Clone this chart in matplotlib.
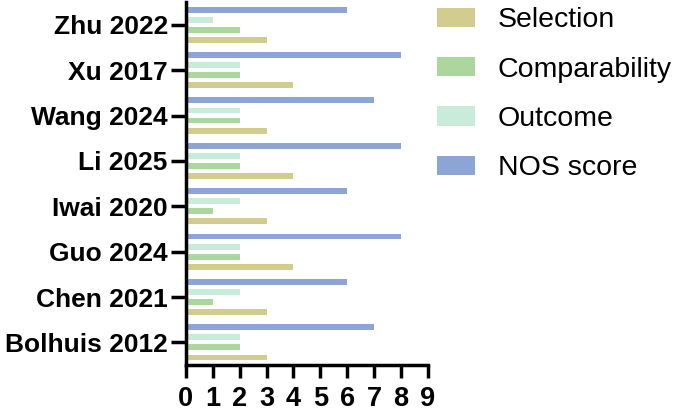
import matplotlib
matplotlib.use("Agg")
import matplotlib.pyplot as plt
import numpy as np
from matplotlib.patches import Patch

plt.rcParams['font.family'] = ['Liberation Sans', 'DejaVu Sans']

studies = ["Bolhuis 2012", "Chen 2021", "Guo 2024", "Iwai 2020",
           "Li 2025", "Wang 2024", "Xu 2017", "Zhu 2022"]
selection = [3, 3, 4, 3, 4, 3, 4, 3]
comparability = [2, 1, 2, 1, 2, 2, 2, 2]
outcome = [2, 2, 2, 2, 2, 2, 2, 1]
nos_score = [7, 6, 8, 6, 8, 7, 8, 6]
series_names = ["Selection", "Comparability", "Outcome", "NOS score"]
colors = ["#d2cd8e", "#abd79e", "#c8ebda", "#8ca5d4"]

fig = plt.figure(figsize=(6.76, 4.13), dpi=100)
ax = fig.add_axes([0.275, 0.116, 0.358, 0.879])

y = np.arange(len(studies))
offsets = [-0.333, -0.111, 0.111, 0.333]
for vals, off, c in zip([selection, comparability, outcome, nos_score], offsets, colors):
    ax.barh(y + off, vals, height=0.13, color=c, edgecolor='none')

ax.set_xlim(0, 9)
ax.set_ylim(-0.5, 7.5)
ax.set_xticks(range(10))
ax.set_yticks(y)
ax.set_yticklabels(studies, fontsize=19, fontweight='bold')
ax.set_xticklabels([str(i) for i in range(10)], fontsize=19.5, fontweight='bold')
for s in ['top', 'right']:
    ax.spines[s].set_visible(False)
for s in ['left', 'bottom']:
    ax.spines[s].set_linewidth(2.5)
ax.tick_params(axis='x', length=9, width=2.5, pad=6)
ax.tick_params(axis='y', length=11, width=2.5, pad=2)

handles = [Patch(facecolor=c, edgecolor='none') for c in colors]
fig.legend(handles, series_names, loc='upper left', bbox_to_anchor=(0.6464, 0.982),
           frameon=False, fontsize=20.5, handlelength=1.33, handleheight=0.67,
           handletextpad=0.8, labelspacing=0.82, borderpad=0, borderaxespad=0)

fig.savefig("out.png", dpi=100)
